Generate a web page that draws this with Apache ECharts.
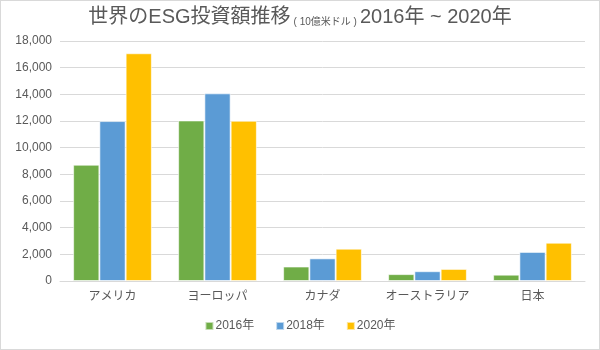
<!DOCTYPE html>
<html><head><meta charset="utf-8">
<script src="https://cdn.jsdelivr.net/npm/echarts@6/dist/echarts.min.js"></script>
<style>
html,body{margin:0;padding:0;background:#fff;}
#c{width:598px;height:348px;border:1px solid #d9d9d9;}
</style></head>
<body><div id="c"></div>
<script>
const categories = ['アメリカ','ヨーロッパ','カナダ','オーストラリア','日本'];
const seriesNames = ['2016年','2018年','2020年'];
const v2016 = [8723, 12040, 1086, 516, 474];
const v2018 = [11995, 14075, 1699, 734, 2180];
const v2020 = [17081, 12017, 2423, 906, 2874];
const colors = ['#70AD47','#5B9BD5','#FFC000'];
const font = "'Liberation Sans', 'Noto Sans CJK JP', sans-serif";
const chart = echarts.init(document.getElementById('c'));
const mk = (name, data, i) => ({
  name, type:'bar', data, barGap:'0%', barCategoryGap:'25%',
  itemStyle:{color:colors[i], borderColor:'rgba(255,255,255,0.6)', borderWidth:1}
});
chart.setOption({
  animation:false,
  textStyle:{fontFamily:font},
  title:{
    text:'{a|世界のESG投資額推移}{b|( 10億米ドル )}{a|2016年 ~ 2020年}',
    left:'center', top:1,
    textStyle:{fontWeight:'normal', rich:{
      a:{fontSize:20, fontWeight:'normal', color:'#595959', fontFamily:font, verticalAlign:'bottom'},
      b:{fontSize:10, fontWeight:'normal', color:'#595959', fontFamily:font, verticalAlign:'bottom', padding:[0,3,0,3]}
    }}
  },
  legend:{
    data:seriesNames, bottom:12, left:'center', itemWidth:8, itemHeight:8, itemGap:21,
    icon:'rect', textStyle:{color:'#595959', fontSize:12, fontFamily:font, padding:[0,0,0,-3]}
  },
  grid:{left:59, right:14, top:40, bottom:68, containLabel:false},
  xAxis:{
    type:'category', data:categories,
    axisLine:{lineStyle:{color:'#d9d9d9'}}, axisTick:{show:false},
    axisLabel:{color:'#595959', fontSize:12, margin:10, interval:0, fontFamily:font}
  },
  yAxis:{
    type:'value', min:0, max:18000, interval:2000,
    axisLine:{show:false}, axisTick:{show:false},
    splitLine:{lineStyle:{color:'#d9d9d9'}},
    axisLabel:{color:'#595959', fontSize:12, margin:8, fontFamily:font,
      formatter:v=>v.toLocaleString('en-US')}
  },
  series:[mk(seriesNames[0],v2016,0), mk(seriesNames[1],v2018,1), mk(seriesNames[2],v2020,2)]
});
</script></body></html>
